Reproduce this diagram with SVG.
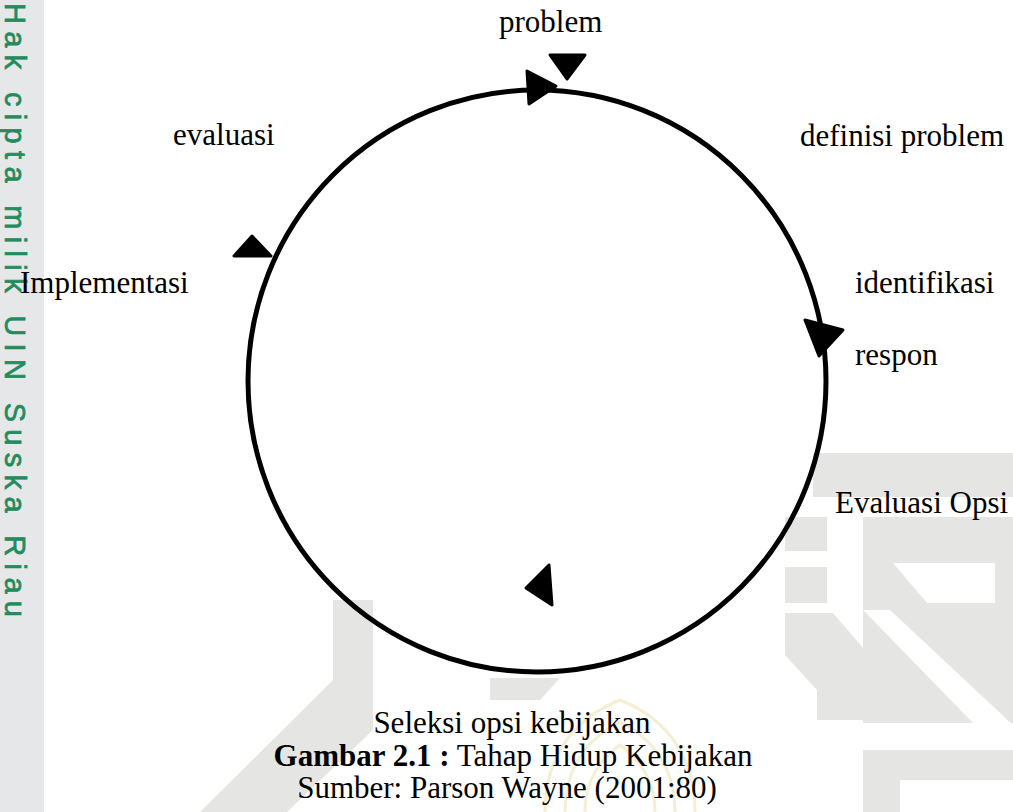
<svg xmlns="http://www.w3.org/2000/svg" width="1013" height="812" viewBox="0 0 1013 812">
<style>
.lbl{font-family:"Liberation Serif","Times New Roman",serif;font-size:31px;fill:#000}
.cap{font-family:"Liberation Serif","Times New Roman",serif;font-size:31px;fill:#000;text-anchor:middle}
.wm{fill:#e5e6e3}
.head{fill:#000;stroke:#000;stroke-width:3;stroke-linejoin:round}
</style>
<rect width="1013" height="812" fill="#ffffff"/>
<g id="watermark">
<rect x="0" y="0" width="44" height="812" fill="#e6e7e9"/>
<text transform="translate(5,3) rotate(90)" font-family="'Liberation Sans',Arial,sans-serif" font-size="29" fill="#238b5c" stroke="#238b5c" stroke-width="0.7" textLength="614" lengthAdjust="spacing">Hak cipta milik UIN Suska Riau</text>
<rect class="wm" x="813" y="453" width="200" height="44"/>
<rect class="wm" x="785" y="517" width="42" height="34"/>
<rect class="wm" x="785" y="567" width="42" height="36"/>
<polygon class="wm" points="785,613 833,613 893,683 893,720 817,720 817,690 785,655"/>
<rect class="wm" x="863" y="517" width="150" height="206"/>
<polygon points="893,563 995,563 995,603 927,603" fill="#fff"/>
<polygon points="863,610 890,610 1013,725 975,725" fill="#fff"/>
<rect class="wm" x="863" y="750" width="150" height="62"/>
<rect x="900" y="780" width="113" height="32" fill="#fff"/>
<polygon class="wm" points="333,600 373,600 373,730 287,812 200,812 333,680"/>
<polygon class="wm" points="490,678 560,678 540,700 490,700"/>
<g fill="none" stroke="#f4efd2" stroke-width="3">
<path d="M545,812 C545,760 570,720 620,700 C670,720 695,760 695,812"/>
<path d="M565,812 C565,770 585,740 620,722 C655,740 675,770 675,812"/>
<path d="M585,812 C585,780 600,760 620,745 C640,760 655,780 655,812"/>
</g>
</g>
<g id="connectors" fill="none" stroke="#000" stroke-width="5">
<ellipse cx="537" cy="381" rx="289" ry="291"/>
</g>
<g id="arrowheads">
<polygon class="head" points="527,71 529,104 556,86"/>
<polygon class="head" points="550,55 585,55 567,79"/>
<polygon class="head" points="252,236 234,256 271,256"/>
<polygon class="head" points="805,320 819,356 843,330"/>
<polygon class="head" points="549,565 526,588 552,605"/>
</g>
<g id="node-problem"><text class="lbl" x="499" y="32">problem</text></g>
<g id="node-definisi"><text class="lbl" x="800" y="146">definisi problem</text></g>
<g id="node-identifikasi"><text class="lbl" x="855" y="293">identifikasi</text><text class="lbl" x="855" y="365">respon</text></g>
<g id="node-evaluasi-opsi"><text class="lbl" x="835" y="513">Evaluasi Opsi</text></g>
<g id="node-seleksi"><text class="cap" x="512" y="733">Seleksi opsi kebijakan</text></g>
<g id="node-implementasi"><text class="lbl" x="20" y="293">Implementasi</text></g>
<g id="node-evaluasi"><text class="lbl" x="173" y="145">evaluasi</text></g>
<g id="caption">
<text class="cap" x="513" y="766"><tspan font-weight="bold">Gambar 2.1 :</tspan> Tahap Hidup Kebijakan</text>
<text class="cap" x="507" y="798">Sumber: Parson Wayne (2001:80)</text>
</g>
</svg>
